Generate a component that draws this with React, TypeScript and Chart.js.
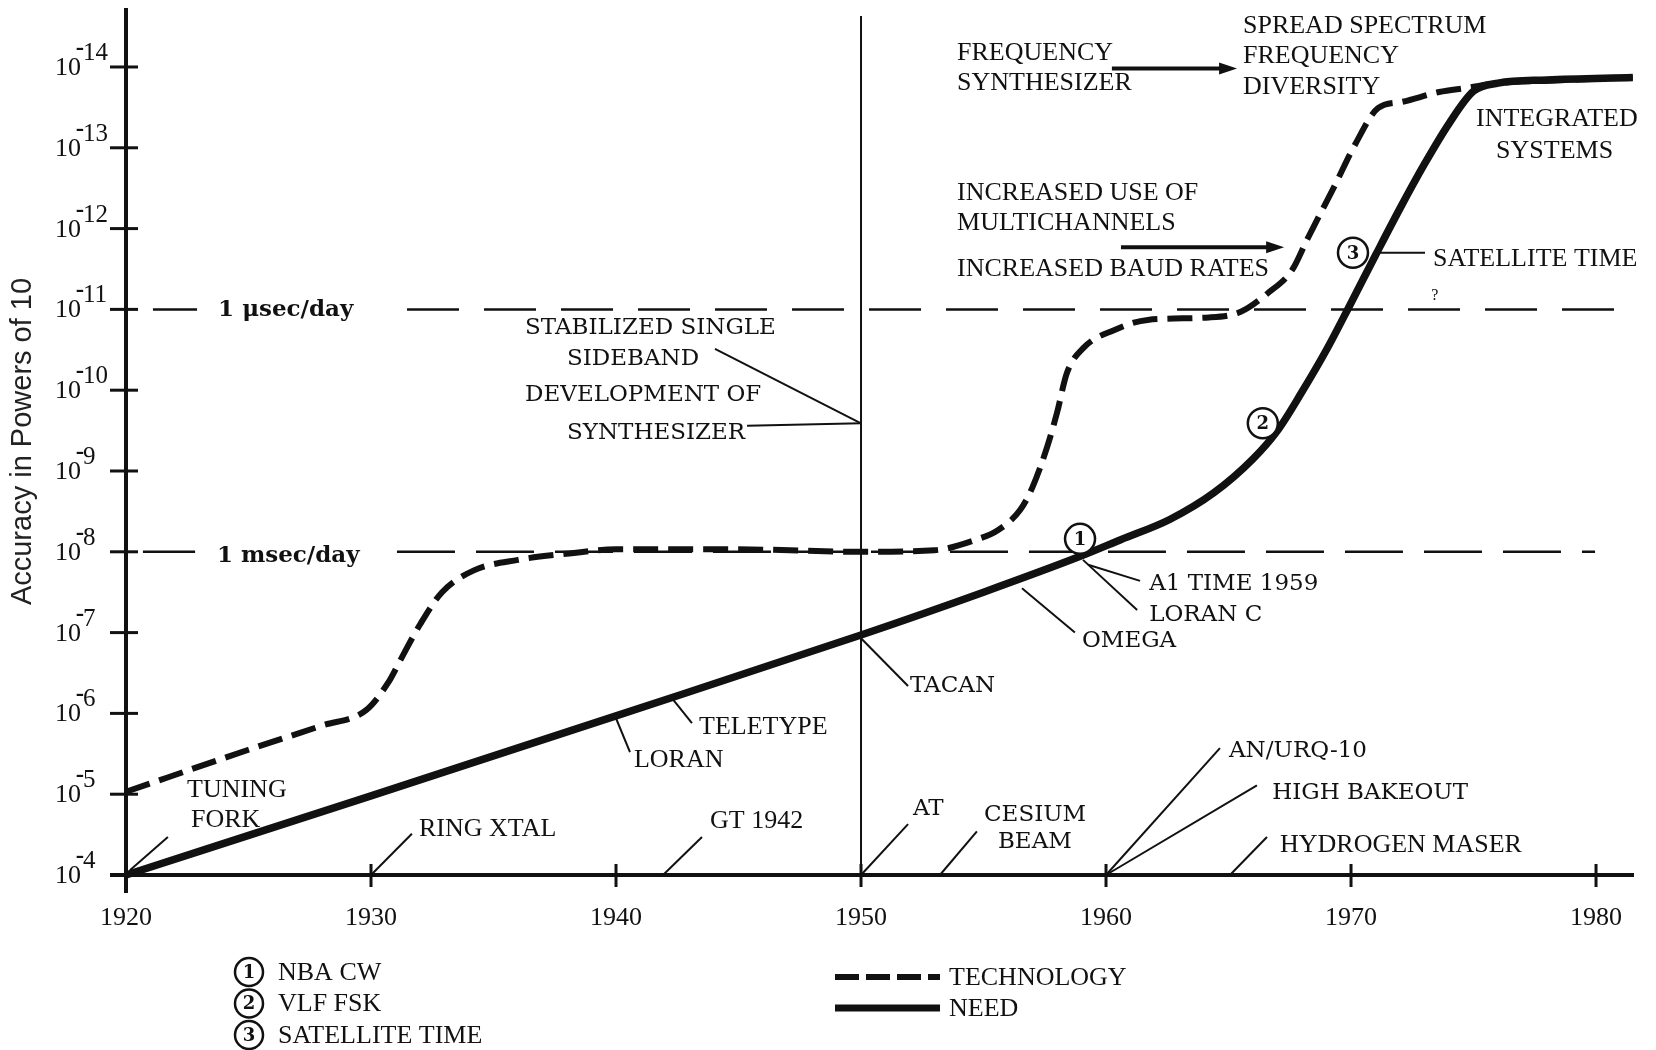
import React, { useEffect, useRef } from "react";
import { Chart, registerables } from "chart.js";

Chart.register(...registerables);

// ---------- data ----------
const YEAR_TICKS = [1920, 1930, 1940, 1950, 1960, 1970, 1980];
const POWER_TICKS = [4, 5, 6, 7, 8, 9, 10, 11, 12, 13, 14];

const TECH_YEARS = [1920, 1925, 1928, 1929.8, 1930.7, 1931.2, 1932.0, 1932.9, 1934.2, 1936, 1938.1, 1940, 1945, 1950, 1953, 1954.7, 1955.6, 1956.5, 1957.0, 1957.6, 1958.0, 1958.4, 1959.1, 1960.3, 1961.7, 1964.2, 1965.5, 1966.6, 1967.6, 1968.2, 1969.3, 1970.2, 1971.1, 1972.1, 1973.6, 1974.7, 1976, 1978, 1981.5];
const TECH_POWERS = [5.03, 5.55, 5.85, 6.04, 6.38, 6.66, 7.1, 7.5, 7.77, 7.9, 7.98, 8.03, 8.03, 8.0, 8.02, 8.15, 8.27, 8.52, 8.8, 9.3, 9.72, 10.21, 10.53, 10.74, 10.87, 10.9, 10.97, 11.2, 11.49, 11.86, 12.51, 13.06, 13.49, 13.57, 13.69, 13.74, 13.8, 13.83, 13.87];

const NEED_YEARS = [1920, 1930, 1940, 1950, 1955, 1959, 1960.6, 1962.6, 1964.4, 1966, 1967, 1968, 1969, 1970, 1971, 1972, 1973, 1974, 1975, 1976, 1978, 1981.5];
const NEED_POWERS = [4.0, 4.98, 5.97, 6.97, 7.5, 7.95, 8.15, 8.4, 8.73, 9.15, 9.5, 9.98, 10.5, 11.08, 11.67, 12.25, 12.8, 13.3, 13.7, 13.8, 13.84, 13.87];

const USEC_PER_DAY = 11;
const MSEC_PER_DAY = 8;
const USEC_SEGMENTS = [[1921.1, 1922.9], [1931.47, 1981.4]];
const MSEC_SEGMENTS = [[1920.69, 1922.82], [1931.06, 1979.96]];
const DIVIDER_YEAR = 1950;
const DIVIDER_RANGE = [4, 14.63];

// annotations, anchored in data coordinates [text, year, power, style]
const LABELS: [string, number, number, string][] = [
  ["TUNING", 1922.49, 5.05, "thin"],
  ["FORK", 1922.65, 4.68, "thin"],
  ["RING XTAL", 1931.96, 4.57, "thin"],
  ["GT 1942", 1943.84, 4.66, "thin"],
  ["AT", 1952.12, 4.82, "century"],
  ["CESIUM", 1955.02, 4.74, "century"],
  ["BEAM", 1955.59, 4.41, "century"],
  ["AN/URQ-10", 1965.02, 5.53, "century"],
  ["HIGH BAKEOUT", 1966.78, 5.01, "century"],
  ["HYDROGEN MASER", 1967.1, 4.37, "thin"],
  ["TACAN", 1952.0, 6.34, "century"],
  ["TELETYPE", 1943.39, 5.83, "thin"],
  ["LORAN", 1940.73, 5.42, "thin"],
  ["OMEGA", 1959.02, 6.9, "century"],
  ["A1 TIME 1959", 1961.76, 7.6, "century"],
  ["LORAN C", 1961.76, 7.22, "century"],
  ["SATELLITE TIME", 1973.35, 11.62, "thin"],
  ["?", 1973.27, 11.17, "small"],
  ["INTEGRATED", 1975.1, 13.36, "thin"],
  ["SYSTEMS", 1975.92, 12.96, "thin"],
  ["SPREAD SPECTRUM", 1965.59, 14.51, "thin"],
  ["FREQUENCY", 1965.59, 14.14, "thin"],
  ["DIVERSITY", 1965.59, 13.75, "thin"],
  ["FREQUENCY", 1953.92, 14.17, "thin"],
  ["SYNTHESIZER", 1953.92, 13.8, "thin"],
  ["INCREASED USE OF", 1953.92, 12.44, "thin"],
  ["MULTICHANNELS", 1953.92, 12.07, "thin"],
  ["INCREASED BAUD RATES", 1953.92, 11.5, "thin"],
  ["STABILIZED SINGLE", 1936.29, 10.77, "century"],
  ["SIDEBAND", 1938.0, 10.39, "century"],
  ["DEVELOPMENT OF", 1936.29, 9.94, "century"],
  ["SYNTHESIZER", 1938.0, 9.47, "century"],
  ["1 \u03bcsec/day", 1923.76, 10.99, "bold"],
  ["1 msec/day", 1923.71, 7.95, "bold"],
];

const LEADERS: [number, number, number, number][] = [
  [1920.16, 4.06, 1921.71, 4.47],
  [1930, 4, 1931.67, 4.51],
  [1941.92, 4, 1943.51, 4.47],
  [1950, 4, 1951.92, 4.63],
  [1953.22, 4, 1954.73, 4.54],
  [1960, 4, 1964.65, 5.57],
  [1960, 4, 1966.16, 5.11],
  [1965.06, 4, 1966.57, 4.47],
  [1950, 6.93, 1951.92, 6.34],
  [1942.33, 6.17, 1943.1, 5.88],
  [1940.0, 5.94, 1940.57, 5.52],
  [1956.57, 7.55, 1958.73, 7.0],
  [1959.27, 7.84, 1961.39, 7.64],
  [1959.06, 7.9, 1961.27, 7.28],
  [1971.18, 11.7, 1973.02, 11.7],
  [1944.04, 10.51, 1950, 9.59],
  [1945.35, 9.56, 1950, 9.59],
];

const ARROWS: [number, number, number, number][] = [
  [1960.24, 13.98, 1965.35, 13.98],
  [1960.61, 11.77, 1967.27, 11.77],
];

const MARKERS: [string, number, number][] = [
  ["1", 1958.94, 8.16],
  ["2", 1966.4, 9.59],
  ["3", 1970.08, 11.7],
];

const NOTE_ITEMS = ["NBA CW", "VLF FSK", "SATELLITE TIME"];
const LEGEND_ITEMS = ["TECHNOLOGY", "NEED"];

// ---------- styles ----------
const INK = "#111";
const FONTS: Record<string, string> = {
  thin: '26px "Liberation Serif"',
  century: '23px "DejaVu Serif"',
  bold: 'bold 23px "DejaVu Serif"',
  small: '16px "Liberation Serif"',
};

const toPoints = (xs: number[], ys: number[]) => xs.map((x, i) => ({ x, y: ys[i] }));

const overlay = {
  id: "overlay",
  afterDraw(chart: any) {
    const { ctx } = chart;
    const xs = chart.scales.x;
    const ys = chart.scales.y;
    const px = (v: number) => xs.getPixelForValue(v);
    const py = (v: number) => ys.getPixelForValue(v);
    const seg = (a: number, b: number, c: number, d: number) => {
      ctx.beginPath();
      ctx.moveTo(a, b);
      ctx.lineTo(c, d);
      ctx.stroke();
    };
    ctx.save();
    ctx.strokeStyle = INK;
    ctx.fillStyle = INK;
    ctx.lineCap = "butt";

    // axes
    const x0 = px(YEAR_TICKS[0]);
    const yb = py(POWER_TICKS[0]);
    ctx.lineWidth = 4;
    seg(x0, chart.chartArea.top, x0, yb + 18);
    seg(x0 - 16, yb, chart.chartArea.right, yb);
    ctx.lineWidth = 3;
    YEAR_TICKS.forEach((v) => seg(px(v), yb - 11, px(v), yb + 12));
    POWER_TICKS.forEach((v) => seg(x0 - 16, py(v), x0 + 12, py(v)));

    // y tick labels 10^-n
    POWER_TICKS.forEach((v) => {
      const y = py(v);
      ctx.textBaseline = "alphabetic";
      ctx.font = '26px "Liberation Serif"';
      ctx.textAlign = "right";
      ctx.fillText("10", 81, y + 8);
      ctx.font = 'bold 25px "Liberation Serif"';
      ctx.fillText("-", 84, y - 12);
      ctx.font = '25px "Liberation Serif"';
      ctx.textAlign = "left";
      ctx.fillText(String(v), 83, y - 7);
    });

    // leaders
    ctx.lineWidth = 2;
    LEADERS.forEach(([a, b, c, d]) => seg(px(a), py(b), px(c), py(d)));

    // arrows
    ARROWS.forEach(([a, b, c, d]) => {
      const x1 = px(a), y1 = py(b), x2 = px(c), y2 = py(d);
      ctx.lineWidth = 4;
      seg(x1, y1, x2 - 14, y2);
      ctx.beginPath();
      ctx.moveTo(x2, y2);
      ctx.lineTo(x2 - 18, y2 - 6);
      ctx.lineTo(x2 - 18, y2 + 6);
      ctx.closePath();
      ctx.fill();
    });

    // labels
    ctx.textAlign = "left";
    ctx.textBaseline = "middle";
    LABELS.forEach(([t, a, b, s]) => {
      ctx.font = FONTS[s];
      ctx.fillText(t, px(a), py(b));
    });

    // numbered markers
    const marker = (n: string, cx: number, cy: number, r: number) => {
      ctx.beginPath();
      ctx.arc(cx, cy, r, 0, Math.PI * 2);
      ctx.fillStyle = "#fff";
      ctx.fill();
      ctx.lineWidth = 2.5;
      ctx.strokeStyle = INK;
      ctx.stroke();
      ctx.fillStyle = INK;
      ctx.font = 'bold 18px "DejaVu Serif"';
      ctx.textAlign = "center";
      ctx.textBaseline = "middle";
      ctx.fillText(n, cx, cy + 1);
    };
    MARKERS.forEach(([n, a, b]) => marker(n, px(a), py(b), 15));

    // notes below the axis
    NOTE_ITEMS.forEach((t, i) => {
      const cy = 972 + i * 31.5;
      marker(String(i + 1), 249, cy, 14);
      ctx.font = FONTS.thin;
      ctx.textAlign = "left";
      ctx.textBaseline = "middle";
      ctx.fillText(t, 278, cy + 1);
    });

    // legend
    ctx.lineWidth = 6;
    ctx.setLineDash([24, 7]);
    seg(835, 977, 940, 977);
    ctx.setLineDash([]);
    ctx.lineWidth = 7;
    seg(835, 1008, 940, 1008);
    ctx.font = FONTS.thin;
    ctx.textAlign = "left";
    ctx.textBaseline = "middle";
    LEGEND_ITEMS.forEach((t, i) => ctx.fillText(t, 949, 978 + i * 31));

    ctx.restore();
  },
};

export default function App() {
  const ref = useRef<HTMLCanvasElement>(null);
  useEffect(() => {
    if (!ref.current) return;
    const refLine = (segs: number[][], level: number, dash: number[]) =>
      segs.map((s) => ({
        data: [{ x: s[0], y: level }, { x: s[1], y: level }],
        borderColor: INK,
        borderWidth: 2.5,
        borderDash: dash,
        pointRadius: 0,
        tension: 0,
      }));
    const chart = new Chart(ref.current, {
      type: "line",
      data: {
        datasets: [
          {
            label: "TECHNOLOGY",
            data: toPoints(TECH_YEARS, TECH_POWERS),
            borderColor: INK,
            borderWidth: 6,
            borderDash: [25, 10],
            borderCapStyle: "butt",
            pointRadius: 0,
            cubicInterpolationMode: "monotone",
            clip: false,
          },
          {
            label: "NEED",
            data: toPoints(NEED_YEARS, NEED_POWERS),
            borderColor: INK,
            borderWidth: 7.5,
            pointRadius: 0,
            cubicInterpolationMode: "monotone",
            clip: false,
          },
          ...refLine(USEC_SEGMENTS, USEC_PER_DAY, [52, 25]),
          ...refLine(MSEC_SEGMENTS, MSEC_PER_DAY, [58, 21]),
          {
            data: [
              { x: DIVIDER_YEAR, y: DIVIDER_RANGE[0] },
              { x: DIVIDER_YEAR, y: DIVIDER_RANGE[1] },
            ],
            borderColor: INK,
            borderWidth: 2,
            pointRadius: 0,
            tension: 0,
          },
        ] as any,
      },
      options: {
        animation: false,
        responsive: false,
        events: [],
        layout: { padding: { top: 8, right: 22, left: 0, bottom: 0 } },
        plugins: { legend: { display: false }, tooltip: { enabled: false } },
        scales: {
          x: {
            type: "linear",
            min: 1920,
            max: 1981.55,
            afterBuildTicks: (s: any) => {
              s.ticks = YEAR_TICKS.map((v) => ({ value: v }));
            },
            afterFit: (s: any) => {
              s.height = 175;
            },
            grid: { display: false, drawTicks: false },
            border: { display: false },
            ticks: {
              autoSkip: false,
              maxRotation: 0,
              padding: 28,
              color: INK,
              font: { family: "Liberation Serif", size: 26 },
              callback: (v: any) => String(v),
            },
          },
          y: {
            type: "linear",
            min: 4,
            max: 14.73,
            afterBuildTicks: (s: any) => {
              s.ticks = POWER_TICKS.map((v) => ({ value: v }));
            },
            afterFit: (s: any) => {
              s.width = 126;
            },
            grid: { display: false, drawTicks: false },
            border: { display: false },
            ticks: { display: false },
            title: {
              display: true,
              text: "Accuracy in Powers of 10",
              color: "#222",
              font: { family: "Liberation Sans", size: 29 },
              padding: { top: 6, bottom: 0 },
            },
          },
        },
      } as any,
      plugins: [overlay],
    });
    return () => chart.destroy();
  }, []);
  return (
    <div style={{ position: "fixed", left: 0, top: 0, width: 1656, height: 1050, background: "#fff" }}>
      <canvas ref={ref} width={1656} height={1050} style={{ display: "block", width: 1656, height: 1050 }} />
    </div>
  );
}
